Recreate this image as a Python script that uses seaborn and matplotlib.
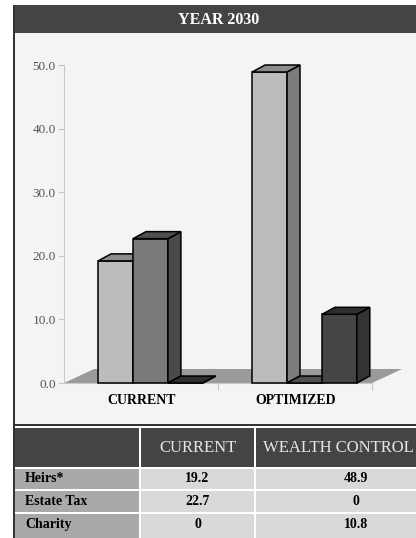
import matplotlib
matplotlib.use("Agg")
import matplotlib.pyplot as plt
from matplotlib.patches import Rectangle, Polygon
from matplotlib.transforms import ScaledTranslation
import pandas as pd
import seaborn as sns

# ---- data ----
categories = ["CURRENT", "OPTIMIZED"]
series = ["Heirs*", "Estate Tax", "Charity"]
current_values = [19.2, 22.7, 0]
optimized_values = [48.9, 0, 10.8]
table_columns = ["CURRENT", "WEALTH CONTROL"]
y_ticks = [0, 10, 20, 30, 40, 50]
title = "YEAR 2030"

# ---- styling ----
front_colors = ["#bcbcbc", "#7a7a7a", "#454545"]
top_colors = ["#8c8c8c", "#505050", "#2e2e2e"]
side_colors = ["#7c7c7c", "#4a4a4a", "#333333"]
panel_bg = "#f4f4f4"
dark = "#444444"

W, H = 416, 538
sns.set_theme(style="white")
plt.rcParams["font.family"] = ["Liberation Serif", "DejaVu Serif"]

fig = plt.figure(figsize=(W / 100, H / 100), dpi=100)
fig.patch.set_facecolor("white")


def px_rect(x0, y0, x1, y1, color, z=-1):
    fig.add_artist(Rectangle((x0 / W, 1 - y1 / H), (x1 - x0) / W, (y1 - y0) / H,
                             transform=fig.transFigure, facecolor=color,
                             edgecolor="none", zorder=z))


def px_text(x, y, s, **kw):
    fig.text(x / W, 1 - y / H, s, **kw)


# frame, title bar and chart panel
px_rect(13, 5, W, H, "#333333", -3)
px_rect(15, 33, W, 424, panel_bg, -2)
px_rect(15, 426, W, 428, "white", -2)
px_rect(15, 5, W, 33, dark, -2)
px_text(219, 20, title, color="white", fontsize=11.5, fontweight="bold",
        ha="center", va="center")

# ---- chart ----
ax_l, ax_r, ax_t, ax_b = 64, 372, 65, 383
ax = fig.add_axes([ax_l / W, 1 - ax_b / H, (ax_r - ax_l) / W, (ax_b - ax_t) / H])
ax.patch.set_alpha(0)

df = pd.DataFrame({
    "category": [c for c in categories for _ in series],
    "series": series * len(categories),
    "value": current_values + optimized_values,
})
sns.barplot(data=df, x="category", y="value", hue="series", order=categories,
            hue_order=series, palette=front_colors, width=0.68, saturation=1,
            edgecolor="black", linewidth=1.1, legend=False, ax=ax)

x0 = -0.5617
ax.set_xlim(x0, x0 + 2)
ax.set_ylim(0, 50)

# 3D depth of each bar in data units
dx, dy = 0.084, 1.1
bars = []
for k, cont in enumerate(ax.containers):
    for p in cont.patches:
        bars.append((p.get_x(), k, p))
bars.sort(key=lambda b: b[0])
for i, (bx, k, p) in enumerate(bars):
    z = 3 + 0.1 * i
    w, h = p.get_width(), p.get_height()
    p.set_zorder(z)
    p.set_clip_on(False)
    top = Polygon([(bx, h), (bx + w, h), (bx + w + dx, h + dy), (bx + dx, h + dy)],
                  closed=True, facecolor=top_colors[k], edgecolor="black",
                  linewidth=1.1, zorder=z, clip_on=False)
    side = Polygon([(bx + w, 0), (bx + w + dx, dy), (bx + w + dx, h + dy), (bx + w, h)],
                   closed=True, facecolor=side_colors[k], edgecolor="black",
                   linewidth=1.1, zorder=z, clip_on=False)
    ax.add_patch(side)
    ax.add_patch(top)

# floor
fdx, fdy = 0.195, 2.2
ax.add_patch(Polygon([(x0, 0), (x0 + 2, 0), (x0 + 2 + fdx, fdy), (x0 + fdx, fdy)],
                     closed=True, facecolor="#9a9a9a", edgecolor="none",
                     zorder=2, clip_on=False))

for s in ["top", "right"]:
    ax.spines[s].set_visible(False)
for s in ["left", "bottom"]:
    ax.spines[s].set_color("#c8c8c8")
    ax.spines[s].set_linewidth(0.8)

ax.set_yticks(y_ticks)
ax.set_yticklabels([f"{t:.1f}" for t in y_ticks])
ax.tick_params(axis="y", length=4, width=0.8, color="#c8c8c8", pad=2,
               labelsize=9.5, labelcolor="#555555", left=True)
ax.set_xticks(range(len(categories)))
ax.set_xticklabels(categories)
ax.set_xticks([x0 + 1, x0 + 2], minor=True)
ax.tick_params(axis="x", which="major", length=0, pad=8, labelsize=10)
ax.tick_params(axis="x", which="minor", length=5, width=0.8, color="#c8c8c8",
               bottom=True)
shift = ScaledTranslation(-9 / 100, 0, fig.dpi_scale_trans)
for lab in ax.get_xticklabels():
    lab.set_fontweight("bold")
    lab.set_color("black")
    lab.set_transform(lab.get_transform() + shift)
ax.set_xlabel("")
ax.set_ylabel("")
ax.grid(False)

# ---- table ----
col_edges = [(15, 139), (141, 254), (256, W)]
col_centers = [None, 197.5, 356]
row_edges = [(469, 489), (491, 512), (514, H)]

px_rect(15, 428, W, 467, dark)
px_rect(139, 428, 141, 467, "white", -0.5)
px_rect(254, 428, 256, 467, "white", -0.5)
px_rect(15, 467, W, H, "white", -1.5)
px_text(col_centers[1], 447.5, table_columns[0], color="#e6e6e6", fontsize=12,
        ha="center", va="center")
px_text(263, 447.5, table_columns[1], color="#e6e6e6", fontsize=12,
        ha="left", va="center")

columns_values = [current_values, optimized_values]
for r, (name, (ry0, ry1)) in enumerate(zip(series, row_edges)):
    px_rect(col_edges[0][0], ry0, col_edges[0][1], ry1, "#a9a9a9")
    px_rect(col_edges[1][0], ry0, col_edges[1][1], ry1, "#d9d9d9")
    px_rect(col_edges[2][0], ry0, col_edges[2][1], ry1, "#d9d9d9")
    yc = (ry0 + min(ry1, 535)) / 2
    px_text(25, yc, name, color="black", fontsize=10, fontweight="bold",
            ha="left", va="center")
    for c, vals in enumerate(columns_values):
        px_text(col_centers[c + 1], yc, f"{vals[r]:g}", color="black",
                fontsize=10, fontweight="bold", ha="center", va="center")

fig.savefig("out.png", dpi=100)
